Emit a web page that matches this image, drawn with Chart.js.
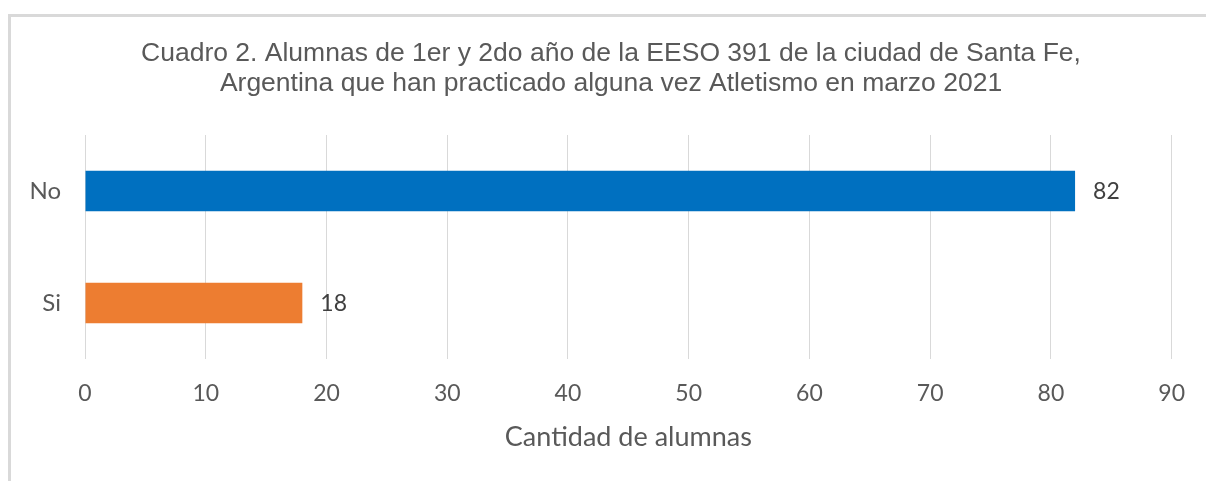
<!DOCTYPE html>
<html>
<head>
<meta charset="utf-8">
<script src="https://cdn.jsdelivr.net/npm/chart.js@4"></script>
<style>
  html, body { margin: 0; padding: 0; background: #fff; }
  #wrap { position: relative; width: 1206px; height: 481px; }
  #frame { position: absolute; left: 8px; top: 14px; right: 0; bottom: 0;
           border-top: 3px solid #d9d9d9; border-left: 3px solid #d9d9d9; }
  canvas { position: absolute; left: 0; top: 0; }
</style>
</head>
<body>
<div id="wrap">
  <div id="frame"></div>
  <canvas id="chart" width="1206" height="481"></canvas>
</div>
<script>
const categories = ['No', 'Si'];
const values = [82, 18];
const barColors = ['#0070C0', '#ED7D31'];
const titleLines = [
    'Cuadro 2. Alumnas de 1er y 2do año de la EESO 391 de la ciudad de Santa Fe,',
    'Argentina que han practicado alguna vez Atletismo en marzo 2021',
];
const axisTitle = 'Cantidad de alumnas';

const labelFont = 'Lato';

// title is drawn by hand: the built-in one centres on the padded box,
// which is a bit left of where the original sits
const chartTitle = {
    id: 'chartTitle',
    afterDraw(chart) {
        const ctx = chart.ctx;
        ctx.save();
        ctx.font = '26.5px "Liberation Sans"';
        ctx.fillStyle = '#595959';
        ctx.textAlign = 'center';
        ctx.textBaseline = 'middle';
        titleLines.forEach((line, i) => ctx.fillText(line, 611, 54 + i * 30));
        ctx.restore();
    },
};

// draws the value right after the end of each bar
const valueLabels = {
    id: 'valueLabels',
    afterDatasetsDraw(chart) {
        const ctx = chart.ctx;
        const meta = chart.getDatasetMeta(0);
        ctx.save();
        ctx.font = '23px ' + labelFont;
        ctx.fillStyle = '#404040';
        ctx.textBaseline = 'middle';
        ctx.textAlign = 'left';
        meta.data.forEach((bar, i) => {
            ctx.fillText(String(values[i]), bar.x + 18, bar.y + 1);
        });
        ctx.restore();
    },
};

new Chart(document.getElementById('chart'), {
    type: 'bar',
    data: {
        labels: categories,
        datasets: [{
            data: values,
            backgroundColor: barColors,
            borderWidth: 0,
            barPercentage: 0.36,
            categoryPercentage: 1,
        }],
    },
    options: {
        indexAxis: 'y',
        responsive: false,
        animation: false,
        layout: { padding: { top: 135, right: 34, bottom: 0, left: 0 } },
        plugins: {
            legend: { display: false },
            tooltip: { enabled: false },
            title: { display: false },
        },
        scales: {
            x: {
                min: 0,
                max: 90,
                ticks: {
                    stepSize: 10,
                    color: '#595959',
                    padding: 21,
                    font: { family: labelFont, size: 23 },
                },
                grid: { color: '#d9d9d9', drawTicks: false },
                border: { display: false },
                title: {
                    display: true,
                    text: axisTitle,
                    color: '#595959',
                    font: { family: labelFont, size: 27 },
                    padding: { bottom: 28 },
                },
                afterFit: (scale) => { scale.height = 122; },
            },
            y: {
                ticks: {
                    color: '#595959',
                    padding: 24,
                    font: { family: labelFont, size: 24 },
                },
                grid: { display: false, drawTicks: false },
                border: { display: false },
                afterFit: (scale) => { scale.width = 85; },
            },
        },
    },
    plugins: [valueLabels, chartTitle],
});
</script>
</body>
</html>
